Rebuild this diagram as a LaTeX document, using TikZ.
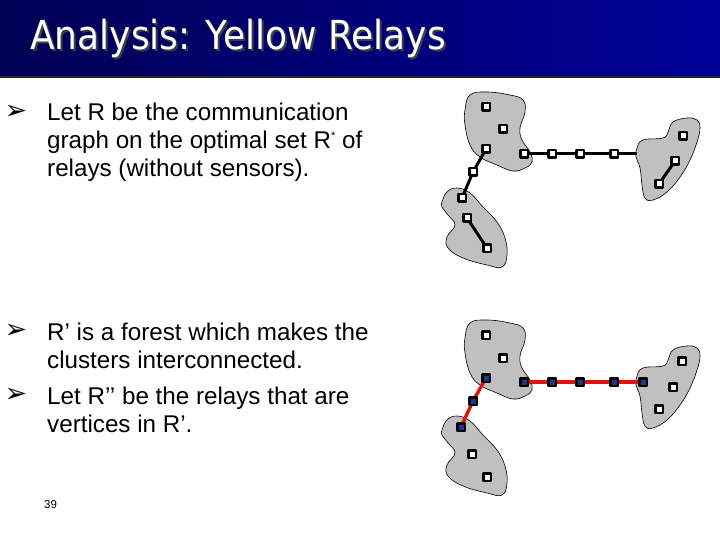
\documentclass[tikz,border=0pt]{standalone}
\usepackage{fontspec}
\setmainfont{Liberation Sans}
\newfontfamily\titlefont{DejaVu Sans}
\newfontfamily\symfont{DejaVu Sans}
\usetikzlibrary{positioning}
\pgfdeclarelayer{back}
\pgfsetlayers{back,main}

\definecolor{bardark}{RGB}{0,0,84}
\definecolor{barlight}{RGB}{0,0,152}
\definecolor{blobgray}{RGB}{192,192,192}
\definecolor{relayblue}{RGB}{30,54,150}
\definecolor{linkred}{RGB}{222,18,18}

% 簇的轮廓
\def\clusterA{plot[smooth cycle,tension=0.7] coordinates {(465,110) (470,95) (487,92) (510,95) (523,100) (525,112) (520,128) (522,140) (530,152) (532,162) (525,168) (513,171) (497,165) (480,157) (470,145) (465,125)}}
\def\clusterB{plot[smooth cycle,tension=0.7] coordinates {(442,202) (447,192) (457,188) (470,193) (483,207) (497,222) (505,238) (507,255) (502,267) (487,265) (463,258) (448,248) (447,237) (455,225) (448,215) (442,207)}}
\def\clusterC{plot[smooth cycle,tension=0.7] coordinates {(637,148) (643,140) (663,138) (668,132) (673,122) (687,118) (697,120) (700,128) (697,142) (690,160) (680,177) (667,192) (653,200) (645,198) (642,185) (640,168) (636,157)}}

\begin{document}
\begin{tikzpicture}[x=1pt,y=-1pt,line cap=round,line join=round,
  relay/.style={draw,line width=2.6pt,fill=white,minimum size=7.6pt,inner sep=0pt},
  relayused/.style={relay,fill=relayblue},
  cluster/.style={fill=blobgray,draw=black,line width=0.6pt},
  hop/.style={line width=3pt,line cap=butt},
  hopred/.style={line width=3.4pt,draw=linkred,line cap=butt},
  textline/.style={anchor=base west,inner sep=0pt,font=\fontsize{24.2}{28}\selectfont},
  bulletmark/.style={inner sep=0pt,font=\symfont\fontsize{27}{27}\selectfont}]
  \useasboundingbox (0,0) rectangle (720,540);
  % 标题栏
  \shade[left color=bardark,right color=barlight] (0,0) rectangle (720,77);
  \draw[line width=1.5pt,black!85] (0,77) -- (720,77);
  \node[anchor=base west,inner sep=0pt,text=black!75,font=\titlefont\fontsize{40}{40}\selectfont] at (32,52) {\scalebox{0.9}[1]{Analysis: Yellow Relays}};
  \node[anchor=base west,inner sep=0pt,text=white,font=\titlefont\fontsize{40}{40}\selectfont] (title) at (30,50) {\scalebox{0.9}[1]{Analysis: Yellow Relays}};
  % 第一条
  \node[bulletmark] (m1) at (16,112) {➢};
  \node[textline] (l1) at (47,121) {Let R be the communication};
  \node[textline] (l2) at (47,149) {graph on the optimal set R\raisebox{9pt}{\fontsize{11}{11}\selectfont *} of};
  \node[textline] (l3) at (47,177) {relays (without sensors).};
  % 第二条、第三条
  \node[bulletmark] (m2) at (16,331) {➢};
  \node[textline] (l4) at (47,340) {R’ is a forest which makes the};
  \node[textline] (l5) at (47,368) {clusters interconnected.};
  \node[bulletmark] (m3) at (16,395) {➢};
  \node[textline] (l6) at (47,404) {Let R’’ be the relays that are};
  \node[textline] (l7) at (47,432) {vertices in R’.};
  \node[anchor=base west,inner sep=0pt,font=\fontsize{11.5}{11.5}\selectfont] (pg) at (44,508) {39};
  % 簇
  \begin{pgfonlayer}{back}
    \path[cluster] \clusterA;
    \path[cluster] \clusterB;
    \path[cluster] \clusterC;
    \begin{scope}[shift={(0,228)}]
      \path[cluster] \clusterA;
      \path[cluster] \clusterB;
      \path[cluster] \clusterC;
    \end{scope}
  \end{pgfonlayer}
  % 上图：中继
  \node[relay] (t1) at (486,107) {};
  \node[relay] (t2) at (503,129) {};
  \node[relay] (t3) at (486,149) {};
  \node[relay] (t4) at (524,154) {};
  \node[relay] (t5) at (552,154) {};
  \node[relay] (t6) at (580,154) {};
  \node[relay] (t7) at (614,154) {};
  \node[relay] (t8) at (473,172) {};
  \node[relay] (t9) at (462,198) {};
  \node[relay] (t10) at (467,218) {};
  \node[relay] (t11) at (487,248) {};
  \node[relay] (t12) at (683,136) {};
  \node[relay] (t13) at (675,161) {};
  \node[relay] (t14) at (659,184) {};
  \coordinate (tend) at (637,154);
  % 下图：中继
  \node[relay] (u1) at (486,335) {};
  \node[relay] (u2) at (503,358) {};
  \node[relayused] (u3) at (486,378) {};
  \node[relayused] (u4) at (524,382) {};
  \node[relayused] (u5) at (552,382) {};
  \node[relayused] (u6) at (580,382) {};
  \node[relayused] (u7) at (614,382) {};
  \node[relayused] (u8) at (643,382) {};
  \node[relayused] (u9) at (473,401) {};
  \node[relayused] (u10) at (461,427) {};
  \node[relay] (u11) at (472,454) {};
  \node[relay] (u12) at (487,477) {};
  \node[relay] (u13) at (682,361) {};
  \node[relay] (u14) at (673,387) {};
  \node[relay] (u15) at (659,409) {};
  % 连线
  \begin{pgfonlayer}{back}
    \draw[hop] (t3.center) -- (t8.center) -- (t9.center);
    \draw[hop] (t4.center) -- (t5.center) -- (t6.center) -- (t7.center) -- (tend);
    \draw[hop] (t10.center) -- (t11.center);
    \draw[hop] (t13.center) -- (t14.center);
    \draw[hopred] (u3.center) -- (u9.center) -- (u10.center);
    \draw[hopred] (u4.center) -- (u5.center) -- (u6.center) -- (u7.center) -- (u8.center);
  \end{pgfonlayer}
\end{tikzpicture}
\end{document}
